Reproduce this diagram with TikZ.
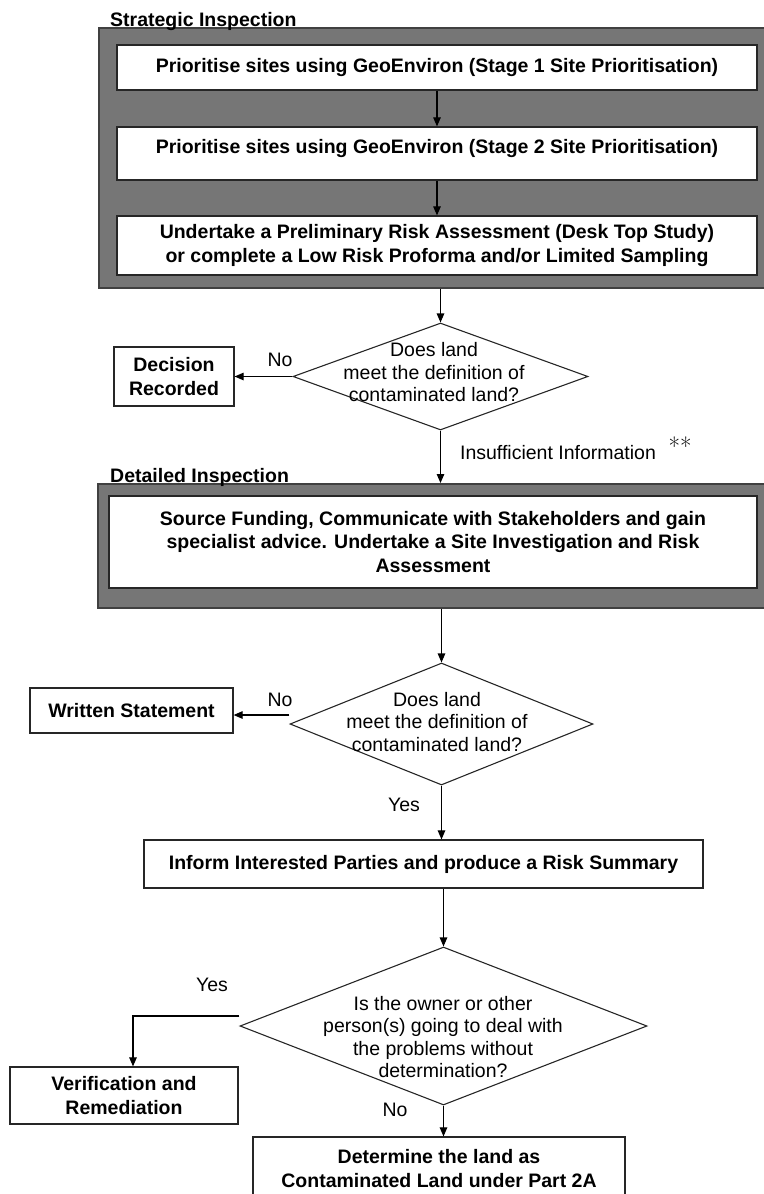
\documentclass[tikz,border=0pt]{standalone}
\usepackage{fontspec}
\setmainfont{Liberation Sans}
\newfontfamily\lmfont{Latin Modern Roman}
\usepackage{tikz}
\usetikzlibrary{arrows.meta,shapes.geometric}
\usepackage{xcolor}
\definecolor{panelgray}{RGB}{118,118,118}

\begin{document}
\begin{tikzpicture}[
  x=1pt, y=-1pt,
  font=\fontsize{19.5}{23}\selectfont,
  panel/.style={draw=black!75, fill=panelgray, line width=1.6pt,
                anchor=north west, inner sep=0pt},
  box/.style={draw=black!85, fill=white, align=center, inner sep=0pt,
              line width=1.2pt, font=\fontsize{19.5}{23.5}\selectfont\bfseries},
  decision/.style={draw=black!85, diamond, inner sep=0pt, line width=1.1pt},
  qtext/.style={align=center, inner sep=0pt, font=\fontsize{19.5}{22.5}\selectfont},
  tag/.style={inner sep=0pt},
  title/.style={anchor=base west, inner sep=0pt,
                font=\fontsize{19.5}{23}\selectfont\bfseries},
  arr/.style={-{Triangle[length=9pt, width=7.5pt]}, line width=1.1pt}
]
\useasboundingbox (0,0) rectangle (763,1194);

% strategic inspection
\node[panel, minimum width=667, minimum height=260] (strat) at (98,27) {};
\node[title] (stratlbl) at (110,26) {Strategic Inspection};
\node[box, minimum width=640, minimum height=45] (s1) at (437,67.5)
  {Prioritise sites using GeoEnviron (Stage 1 Site Prioritisation)};
\node[box, minimum width=640, minimum height=53, text height=14pt, text depth=14pt] (s2) at (437,153.5)
  {Prioritise sites using GeoEnviron (Stage 2 Site Prioritisation)};
\node[box, minimum width=640, minimum height=59] (s3) at (437,245.5)
  {Undertake a Preliminary Risk Assessment (Desk Top Study)\\
   or complete a Low Risk Proforma and/or Limited Sampling};

% first check
\node[decision, minimum width=295, minimum height=107] (q1) at (440.5,376.5) {};
\node[qtext] (q1t) at (434,372.5) {Does land\\meet the definition of\\contaminated land?};
\node[box, minimum width=120, minimum height=59] (dec) at (174,376.5) {Decision\\Recorded};
\node[tag] (q1no) at (280,360) {No};
\node[tag] (q1ins) at (558,453) {Insufficient Information};
\node[tag, font=\lmfont\fontsize{25}{27}\selectfont] (stars) at (680,446) {**};

% detailed inspection
\node[panel, minimum width=668, minimum height=124] (det) at (97,483) {};
\node[title] (detlbl) at (110,482) {Detailed Inspection};
\node[box, minimum width=648, minimum height=92] (d1) at (433,542)
  {Source Funding, Communicate with Stakeholders and gain\\
   specialist advice. Undertake a Site Investigation and Risk\\
   Assessment};

% second check
\node[decision, minimum width=303, minimum height=122] (q2) at (441.5,724) {};
\node[qtext] (q2t) at (437,722) {Does land\\meet the definition of\\contaminated land?};
\node[box, minimum width=203, minimum height=45] (ws) at (131.5,710.5) {Written Statement};
\node[tag] (q2no) at (280,700) {No};
\node[tag] (q2yes) at (404,805) {Yes};
\node[box, minimum width=559, minimum height=48] (inf) at (423.5,864)
  {Inform Interested Parties and produce a Risk Summary};

% owner check
\node[decision, minimum width=407, minimum height=158] (q3) at (443.5,1026) {};
\node[qtext] (q3t) at (443,1037)
  {Is the owner or other\\person(s) going to deal with\\the problems without\\determination?};
\node[box, minimum width=228, minimum height=57] (ver) at (124,1095.5) {Verification and\\Remediation};
\node[tag] (q3yes) at (212,985) {Yes};
\node[tag] (q3no) at (395,1110) {No};
\node[box, minimum width=372, minimum height=63] (detm) at (439,1168.5)
  {Determine the land as\\Contaminated Land under Part 2A};

\draw[arr] (s1) -- (s2);
\draw[arr] (s2) -- (s3);
\draw[arr] (q1.north |- strat.south) -- (q1.north);
\draw[arr] (q1.west) -- (dec.east);
\draw[arr] (q1.south) -- (q1.south |- det.north);
\draw[arr] (q2.north |- det.south) -- (q2.north);
\draw[arr] ([yshift=9pt]q2.west) -- ([yshift=9pt]q2.west -| ws.east);
\draw[arr] (q2.south) -- (q2.south |- inf.north);
\draw[arr] (q3.north |- inf.south) -- (q3.north);
\draw[arr] ([yshift=10pt]q3.west) -| ([xshift=9pt]ver.north);
\draw[arr] (q3.south) -- (q3.south |- detm.north);
\end{tikzpicture}
\end{document}
